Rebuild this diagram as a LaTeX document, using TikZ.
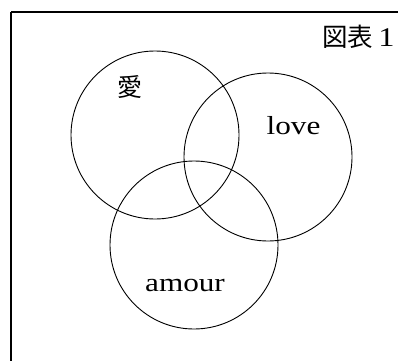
\documentclass[tikz,border=0pt]{standalone}
\usepackage{fontspec}
\setmainfont[FakeStretch=1.2]{Liberation Serif}
\newfontfamily\cjk{Noto Sans CJK JP}
\begin{document}
\begin{tikzpicture}[x=1pt,y=-1pt,
  ring/.style={draw, circle, line width=0.9pt, minimum size=168pt, inner sep=0pt},
  word/.style={inner sep=0pt, anchor=base, font=\fontsize{26}{26}\selectfont},
  cjkword/.style={inner sep=0pt, font=\cjk\fontsize{25}{25}\selectfont}]
\useasboundingbox (0,0) rectangle (398,361);
\coordinate (tl) at (11,12);
\coordinate (tr) at (398,12);
\coordinate (bl) at (11,361);
\draw[line width=1.2pt] (tr) -- (tl);
\draw[line width=1.8pt] (tl) -- (bl);
\node[ring] (c1) at (155,135) {};
\node[ring] (c2) at (268,157) {};
\node[ring] (c3) at (194,245) {};
\node[cjkword] (ai) at (130,87) {愛};
\node[word] (love) at (293.5,134) {love};
\node[word] (amour) at (185,291) {amour};
\node[cjkword, font=\cjk\fontsize{25.5}{25.5}\selectfont] (zu) at (347.5,37) {図表};
\node[word, font=\fontsize{27}{27}\selectfont] (one) at (386.5,46) {1};
\end{tikzpicture}
\end{document}
